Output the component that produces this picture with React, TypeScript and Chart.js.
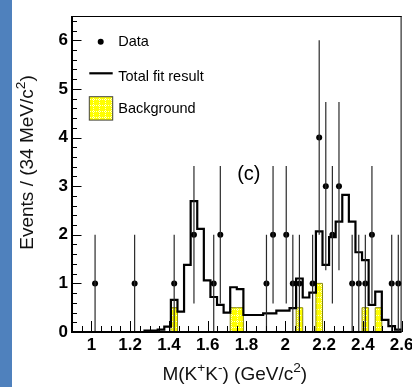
import React, { useEffect, useRef } from 'react';
import { Chart, registerables } from 'chart.js';

Chart.register(...registerables);

// ---- data ----
const binWidth = 0.034; // GeV/c^2 per bin (34 MeV)
const massBins = [
  0.917, 0.951, 0.985, 1.019, 1.053, 1.087, 1.121, 1.155, 1.189, 1.223,
  1.257, 1.291, 1.325, 1.359, 1.393, 1.427, 1.461, 1.495, 1.529, 1.563,
  1.597, 1.631, 1.665, 1.699, 1.733, 1.767, 1.801, 1.835, 1.869, 1.903,
  1.937, 1.971, 2.005, 2.039, 2.073, 2.107, 2.141, 2.175, 2.209, 2.243,
  2.277, 2.311, 2.345, 2.379, 2.413, 2.447, 2.481, 2.515, 2.549, 2.583,
];
const dataCounts = [
  0, 0, 0, 1, 0, 0, 0, 0, 0, 1,
  0, 0, 0, 0, 0, 1, 0, 0, 2, 0,
  0, 1, 2, 0, 0, 0, 0, 0, 0, 1,
  2, 0, 2, 1, 1, 0, 1, 4, 3, 2,
  3, 0, 1, 1, 1, 2, 0, 0, 1, 1,
];
const totalFit = [
  0, 0, 0, 0, 0, 0, 0, 0, 0, 0,
  0, 0.03, 0.03, 0.05, 0.11, 0.66, 0.42, 1.38, 2.69, 2.12,
  1.06, 0.72, 0.56, 0.4, 0.92, 0.88, 0.35, 0.35, 0.35, 0.385,
  0.385, 0.44, 0.44, 0.49, 1.1, 0.71, 0.81, 2.07, 1.38, 1.95,
  2.27, 2.82, 2.27, 1.64, 1.48, 0.56, 0.83, 0.25, 0.12, 0.05,
];
const background = [
  0, 0, 0, 0, 0, 0, 0, 0, 0, 0,
  0, 0, 0, 0, 0, 0.5, 0, 0, 0, 0,
  0, 0, 0, 0, 0.5, 0.5, 0, 0, 0, 0,
  0, 0, 0, 0, 0.5, 0, 0, 1.0, 0, 0,
  0, 0, 0, 0, 0.5, 0, 0.5, 0, 0, 0,
];
const xTickValues = [1, 1.2, 1.4, 1.6, 1.8, 2, 2.2, 2.4, 2.6];
const xTickLabels = ['1', '1.2', '1.4', '1.6', '1.8', '2', '2.2', '2.4', '2.6'];
const yTickValues = [0, 1, 2, 3, 4, 5, 6];
const yTickLabels = ['0', '1', '2', '3', '4', '5', '6'];
const xMin = 0.9;
const xMax = 2.6;
const yMin = 0;
const yMax = 6.5;
const legendLabels = ['Data', 'Total fit result', 'Background'];
const panelLabel = '(c)';
const panelLabelPos = { x: 1.812, y: 3.24 };

const FAMILY = '"Liberation Sans", Arial, Helvetica, sans-serif';

type Seg = { t: string; sup?: boolean };
const xTitle: Seg[] = [
  { t: 'M(K' }, { t: '+', sup: true }, { t: 'K' }, { t: '-', sup: true },
  { t: ') (GeV/c' }, { t: '2', sup: true }, { t: ')' },
];
const yTitle: Seg[] = [{ t: 'Events / (34 MeV/c' }, { t: '2', sup: true }, { t: ')' }];

function histPoints(values: number[]) {
  const pts = massBins.map((c, i) => ({ x: c - binWidth / 2, y: values[i] }));
  pts.push({ x: massBins[massBins.length - 1] + binWidth / 2, y: values[values.length - 1] });
  return pts;
}

function makeHatch(): CanvasPattern | string {
  const c = document.createElement('canvas');
  c.width = 6;
  c.height = 6;
  const g = c.getContext('2d');
  if (!g) return '#ffff00';
  g.fillStyle = '#ffff00';
  g.fillRect(0, 0, 6, 6);
  g.fillStyle = 'rgba(255,255,255,0.8)';
  for (let i = 0; i < 6; i += 2) {
    g.fillRect(3, i, 1, 1);
    g.fillRect(i, 3, 1, 1);
  }
  return g.createPattern(c, 'repeat') ?? '#ffff00';
}

function drawRich(ctx: CanvasRenderingContext2D, segs: Seg[], x: number, y: number, size: number) {
  const widths = segs.map((s) => {
    ctx.font = `${s.sup ? size * 0.72 : size}px ${FAMILY}`;
    return ctx.measureText(s.t).width;
  });
  const total = widths.reduce((a, b) => a + b, 0);
  let cx = x - total / 2;
  ctx.textAlign = 'left';
  ctx.textBaseline = 'alphabetic';
  segs.forEach((s, i) => {
    ctx.font = `${s.sup ? size * 0.72 : size}px ${FAMILY}`;
    ctx.fillText(s.t, cx, s.sup ? y - size * 0.4 : y);
    cx += widths[i];
  });
}

export default function App() {
  const ref = useRef<HTMLCanvasElement | null>(null);

  useEffect(() => {
    if (!ref.current) return;
    const hatch = makeHatch();

    const decor = {
      id: 'rootDecor',
      afterDatasetsDraw(chart: any) {
        const ctx: CanvasRenderingContext2D = chart.ctx;
        const { left, right, top, bottom } = chart.chartArea;
        const xs = chart.scales.x;
        const ys = chart.scales.y;
        ctx.save();

        // error bars
        ctx.strokeStyle = '#2a2a2a';
        ctx.lineWidth = 1.2;
        massBins.forEach((c, i) => {
          const n = dataCounts[i];
          if (n <= 0) return;
          const e = Math.sqrt(n);
          const px = xs.getPixelForValue(c);
          ctx.beginPath();
          ctx.moveTo(px, ys.getPixelForValue(Math.max(0, n - e)));
          ctx.lineTo(px, ys.getPixelForValue(Math.min(yMax, n + e)));
          ctx.stroke();
        });

        // frame
        ctx.strokeStyle = '#000';
        ctx.lineWidth = 1;
        ctx.beginPath();
        ctx.moveTo(left, top + 0.5);
        ctx.lineTo(right, top + 0.5);
        ctx.moveTo(right - 0.5, top);
        ctx.lineTo(right - 0.5, bottom);
        ctx.stroke();
        ctx.lineWidth = 2;
        ctx.beginPath();
        ctx.moveTo(left, top);
        ctx.lineTo(left, bottom);
        ctx.lineTo(right, bottom);
        ctx.stroke();

        // ticks (pointing inward)
        ctx.lineWidth = 1;
        ctx.beginPath();
        for (let v = xMin; v <= xMax + 1e-6; v += 0.05) {
          const px = Math.round(xs.getPixelForValue(v)) + 0.5;
          ctx.moveTo(px, bottom);
          ctx.lineTo(px, bottom - 6);
        }
        xTickValues.forEach((v) => {
          const px = Math.round(xs.getPixelForValue(v)) + 0.5;
          ctx.moveTo(px, bottom);
          ctx.lineTo(px, bottom - 11);
        });
        for (let v = yMin; v <= yMax + 1e-6; v += 0.2) {
          const py = Math.round(ys.getPixelForValue(v)) + 0.5;
          ctx.moveTo(left, py);
          ctx.lineTo(left + 5, py);
        }
        yTickValues.forEach((v) => {
          const py = Math.round(ys.getPixelForValue(v)) + 0.5;
          ctx.moveTo(left, py);
          ctx.lineTo(left + 9.5, py);
        });
        ctx.stroke();

        // legend
        ctx.fillStyle = '#000';
        ctx.beginPath();
        ctx.arc(left + 28.7, top + 25.7, 3, 0, Math.PI * 2);
        ctx.fill();
        ctx.lineWidth = 2.2;
        ctx.beginPath();
        ctx.moveTo(left + 17.3, top + 57.3);
        ctx.lineTo(left + 40.7, top + 57.3);
        ctx.stroke();
        ctx.fillStyle = hatch as any;
        ctx.fillRect(left + 17.3, top + 80.7, 23.4, 23.4);
        ctx.strokeStyle = '#444';
        ctx.lineWidth = 1;
        ctx.strokeRect(left + 17.3, top + 80.7, 23.4, 23.4);
        ctx.fillStyle = '#000';
        ctx.font = `14.5px ${FAMILY}`;
        ctx.textAlign = 'left';
        ctx.textBaseline = 'middle';
        ctx.fillText(legendLabels[0], left + 46.3, top + 26.2);
        ctx.fillText(legendLabels[1], left + 46.3, top + 61.2);
        ctx.fillText(legendLabels[2], left + 46.3, top + 93.2);

        // panel label
        ctx.font = `20px ${FAMILY}`;
        ctx.textAlign = 'center';
        ctx.textBaseline = 'middle';
        ctx.fillText(panelLabel, xs.getPixelForValue(panelLabelPos.x), ys.getPixelForValue(panelLabelPos.y));

        // axis titles
        ctx.fillStyle = '#111';
        drawRich(ctx, xTitle, (left + right) / 2 - 2, bottom + 48, 19);
        ctx.save();
        ctx.translate(left - 39, top + 146.5);
        ctx.rotate(-Math.PI / 2);
        drawRich(ctx, yTitle, 0, 0, 19);
        ctx.restore();

        ctx.restore();
      },
    };

    const tickFont = { family: FAMILY, size: 17, weight: 'bold' as const };

    const chart = new Chart(ref.current, {
      type: 'line',
      data: {
        datasets: [
          {
            label: legendLabels[0],
            data: massBins.map((c, i) => ({ x: c, y: dataCounts[i] })).filter((p) => p.y > 0),
            showLine: false,
            pointRadius: 3,
            pointBackgroundColor: '#000',
            pointBorderWidth: 0,
            order: 0,
          },
          {
            label: legendLabels[1],
            data: histPoints(totalFit),
            stepped: true,
            borderColor: '#000',
            borderWidth: 2.2,
            pointRadius: 0,
            fill: false,
            order: 1,
          },
          {
            label: legendLabels[2],
            data: histPoints(background),
            stepped: true,
            borderColor: '#8a8a10',
            borderWidth: 1,
            backgroundColor: hatch as any,
            pointRadius: 0,
            fill: 'origin',
            order: 2,
          },
        ],
      },
      options: {
        animation: false,
        responsive: true,
        maintainAspectRatio: false,
        layout: { padding: { top: 16, left: 0, right: 0, bottom: 0 } },
        plugins: { legend: { display: false }, tooltip: { enabled: false } },
        scales: {
          x: {
            type: 'linear',
            min: xMin,
            max: xMax,
            grid: { display: false, drawTicks: false },
            border: { display: false },
            ticks: {
              font: tickFont,
              color: '#000',
              padding: 3,
              maxRotation: 0,
              autoSkip: false,
              callback: (_v: any, i: number) => xTickLabels[i],
            },
            afterBuildTicks: (s: any) => {
              s.ticks = xTickValues.map((v) => ({ value: v }));
            },
            afterFit: (s: any) => {
              s.height = 55;
              s.paddingLeft = 0;
              s.paddingRight = 10.4;
            },
          },
          y: {
            type: 'linear',
            min: yMin,
            max: yMax,
            grid: { display: false, drawTicks: false },
            border: { display: false },
            ticks: {
              font: tickFont,
              color: '#000',
              padding: 4,
              autoSkip: false,
              callback: (_v: any, i: number) => yTickLabels[i],
            },
            afterBuildTicks: (s: any) => {
              s.ticks = yTickValues.map((v) => ({ value: v }));
            },
            afterFit: (s: any) => {
              s.width = 72;
              s.paddingTop = 0;
              s.paddingBottom = 0;
            },
          },
        },
      },
      plugins: [decor],
    } as any);

    return () => chart.destroy();
  }, []);

  return (
    <div style={{ position: 'fixed', left: 0, top: 0, width: 412, height: 387, background: '#fff' }}>
      <div style={{ position: 'absolute', left: 0, top: 0, width: 12, height: 387, background: '#4f81bd' }} />
      <canvas ref={ref} />
    </div>
  );
}
